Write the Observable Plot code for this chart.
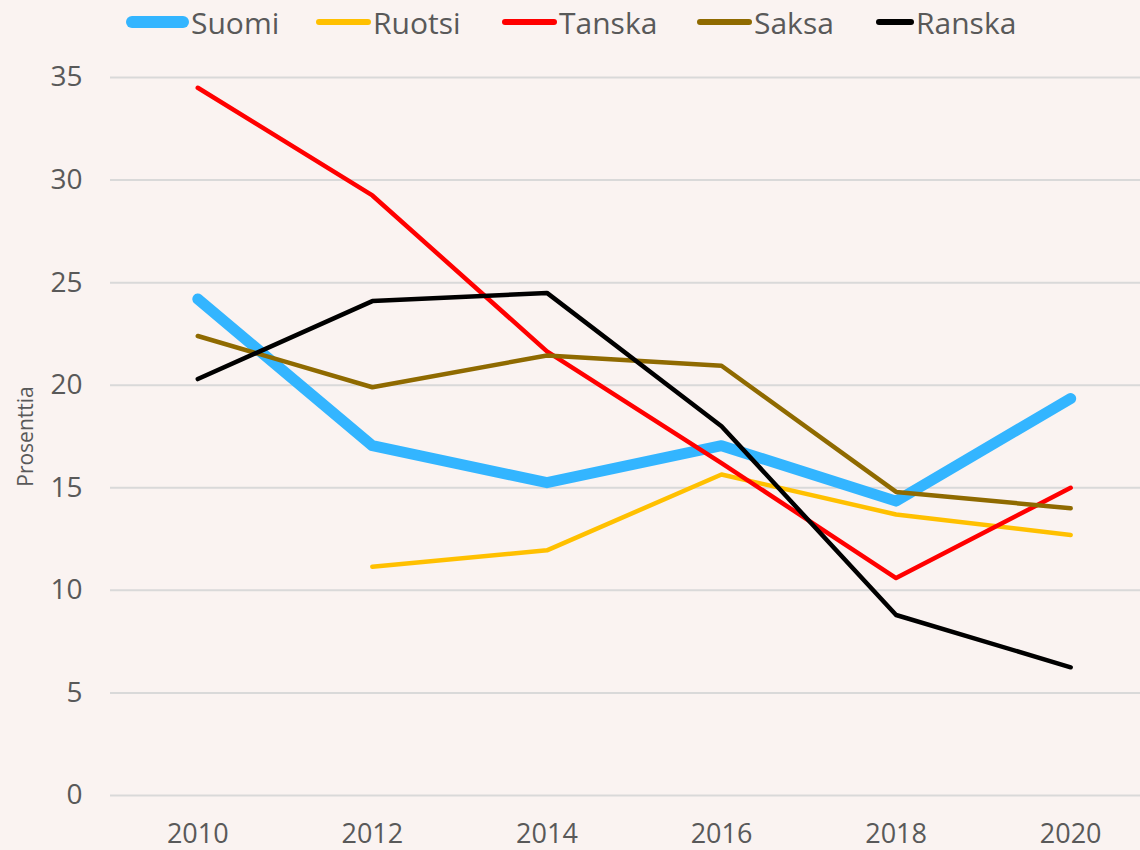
<!DOCTYPE html>
<html>
<head>
<meta charset="utf-8">
<script src="https://cdn.jsdelivr.net/npm/d3@7"></script>
<script src="https://cdn.jsdelivr.net/npm/@observablehq/plot@0.6"></script>
<style>
  html, body { margin: 0; padding: 0; background: #faf3f1; }
  #wrap { width: 1140px; height: 850px; position: relative; overflow: hidden; background: #faf3f1; }
  #legend { position: relative; height: 46px; width: 1140px; font-family: "Open Sans", sans-serif; font-size: 30px; color: #595959; }
  .item { position: absolute; top: 0; height: 44px; display: flex; align-items: center; }
  .sw { border-radius: 8px; margin-right: 2px; }
  #chart svg { display: block; }
</style>
</head>
<body>
<div id="wrap">
  <div id="legend"></div>
  <div id="chart"></div>
</div>
<script>
const years = [2010, 2012, 2014, 2016, 2018, 2020];
const seriesNames = ["Suomi", "Ruotsi", "Tanska", "Saksa", "Ranska"];
const seriesColors = ["#33b5ff", "#ffc000", "#ff0000", "#8f6a00", "#000000"];
const seriesWidths = [11, 4.5, 4.5, 4.5, 4.5];
const suomi  = [24.2, 17.05, 15.25, 17.05, 14.35, 19.35];
const ruotsi = [null, 11.15, 11.95, 15.65, 13.7, 12.7];
const tanska = [34.5, 29.25, 21.65, 16.2, 10.6, 15.0];
const saksa  = [22.4, 19.9, 21.45, 20.95, 14.8, 14.0];
const ranska = [20.3, 24.1, 24.5, 18.0, 8.8, 6.25];
const yTicks = [0, 5, 10, 15, 20, 25, 30, 35];
const yLabel = "Prosenttia";

const values = [suomi, ruotsi, tanska, saksa, ranska];
const rows = [];
seriesNames.forEach((name, i) => {
  years.forEach((yr, j) => {
    if (values[i][j] != null) rows.push({series: name, year: yr, value: values[i][j]});
  });
});

// legend
const legendLefts = [126, 316, 502, 697, 876];
const swatchW = [63, 55, 55, 55, 38];
const legend = document.getElementById("legend");
seriesNames.forEach((name, i) => {
  const it = document.createElement("div");
  it.className = "item";
  it.style.left = legendLefts[i] + "px";
  const sw = document.createElement("div");
  sw.className = "sw";
  sw.style.width = swatchW[i] + "px";
  sw.style.height = (i === 0 ? 12 : 6) + "px";
  sw.style.background = seriesColors[i];
  const tx = document.createElement("span");
  tx.textContent = name;
  it.appendChild(sw);
  it.appendChild(tx);
  legend.appendChild(it);
});

const marks = [
  Plot.ruleY(yTicks, {stroke: "#d9d9d9", strokeWidth: 2}),
  Plot.axisY({ticks: yTicks, tickSize: 0, tickPadding: 28, fontSize: 28, label: null, color: "#595959"}),
  Plot.axisX({ticks: years, tickSize: 0, tickPadding: 28, fontSize: 27, label: null, tickFormat: d => String(d), color: "#595959"}),
  Plot.text([yLabel], {frameAnchor: "left", dx: -84, rotate: -90, textAnchor: "middle", fontSize: 21, fill: "#595959", fontFamily: "Open Sans"})
];
seriesNames.forEach((name, i) => {
  marks.push(Plot.line(rows.filter(r => r.series === name), {
    x: "year", y: "value", stroke: seriesColors[i], strokeWidth: seriesWidths[i],
    strokeLinecap: "round", strokeLinejoin: "round"
  }));
});

const plot = Plot.plot({
  width: 1140,
  height: 804,
  marginTop: 31,
  marginBottom: 55,
  marginLeft: 110,
  marginRight: 0,
  style: {background: "#faf3f1", fontFamily: "Open Sans", color: "#595959"},
  x: {domain: [2009, 2020.8]},
  y: {domain: [0, 35]},
  marks
});
document.getElementById("chart").appendChild(plot);
</script>
</body>
</html>
